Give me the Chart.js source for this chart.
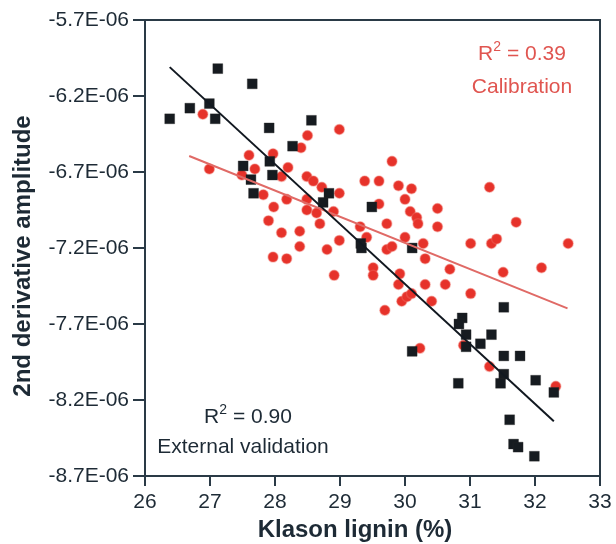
<!DOCTYPE html>
<html>
<head>
<meta charset="utf-8">
<script src="https://cdn.jsdelivr.net/npm/chart.js@4"></script>
<style>
  html, body { margin: 0; padding: 0; background: #ffffff; }
  #wrap { width: 616px; height: 544px; position: relative; }
</style>
</head>
<body>
<div id="wrap"><canvas id="c" width="616" height="544"></canvas></div>
<script>
// ---------- data (y values in units of 1E-06) ----------
const calX = [26.89,26.99,28.99,28.50,28.40,27.60,27.97,27.69,28.20,28.10,27.49,28.49,28.59,28.72,28.99,29.38,
  27.82,28.18,27.98,28.49,27.90,28.69,28.90,28.10,28.38,28.38,28.80,28.99,29.31,27.97,28.18,28.91,
  29.80,29.60,29.90,30.10,30.00,29.60,30.08,30.18,30.20,30.50,30.50,29.72,30.00,29.41,31.30,31.71,
  32.51,31.01,31.33,31.41,30.28,29.72,29.80,30.31,29.51,29.51,29.92,29.90,30.31,30.62,30.69,31.51,
  32.10,31.01,30.41,29.95,30.03,30.10,29.69,30.23,30.90,31.30,32.32,28.49,28.64];
const calY = [-6.32,-6.68,-6.42,-6.46,-6.54,-6.59,-6.58,-6.68,-6.67,-6.73,-6.72,-6.73,-6.76,-6.80,-6.84,-6.76,
  -6.85,-6.88,-6.93,-6.95,-7.02,-7.04,-6.96,-7.10,-7.09,-7.19,-7.21,-7.15,-7.06,-7.26,-7.27,-7.38,
  -6.63,-6.76,-6.79,-6.81,-6.88,-6.91,-6.96,-7.00,-7.04,-6.94,-7.06,-7.04,-7.13,-7.13,-6.80,-7.03,
  -7.17,-7.17,-7.17,-7.14,-7.17,-7.21,-7.19,-7.27,-7.33,-7.38,-7.37,-7.44,-7.44,-7.44,-7.34,-7.36,
  -7.33,-7.50,-7.55,-7.55,-7.52,-7.50,-7.61,-7.86,-7.84,-7.98,-8.11,-6.88,-6.97];
const valX = [27.12,27.65,26.99,26.69,26.38,27.08,27.91,28.56,28.27,27.51,27.92,27.96,27.63,27.67,28.83,28.74,
  29.49,29.32,29.33,30.11,31.52,30.88,30.83,30.94,31.33,31.16,30.94,30.11,31.52,31.77,31.52,31.47,
  30.82,32.01,32.29,31.61,31.67,31.74,31.99];
const valY = [-6.02,-6.12,-6.25,-6.28,-6.35,-6.35,-6.41,-6.36,-6.53,-6.66,-6.63,-6.72,-6.75,-6.84,-6.84,-6.90,
  -6.93,-7.17,-7.20,-7.20,-7.59,-7.66,-7.70,-7.77,-7.77,-7.83,-7.85,-7.88,-7.91,-7.91,-8.03,-8.09,
  -8.09,-8.07,-8.15,-8.33,-8.49,-8.51,-8.57];
const calLineX = [26.68, 32.50];
const calLineY = [-6.595, -7.597];
const valLineX = [26.38, 32.29];
const valLineY = [-6.01, -8.34];
const xTicks = [26, 27, 28, 29, 30, 31, 32, 33];
const yTickLabels = ['-8.7E-06','-8.2E-06','-7.7E-06','-7.2E-06','-6.7E-06','-6.2E-06','-5.7E-06'];
const yTicks = [-8.7, -8.2, -7.7, -7.2, -6.7, -6.2, -5.7];
const E6 = 1e-6;

const pts = (xs, ys) => xs.map((x, i) => ({ x: x, y: ys[i] * E6 }));

const AXIS = '#2a3a46';
const TEXT = '#1d2a35';
const RED = '#e6322a';
const RED_TXT = '#e05550';
const FONT = '"Liberation Sans", Arial, sans-serif';

const decor = {
  id: 'decor',
  afterDraw(chart) {
    const ctx = chart.ctx, a = chart.chartArea;
    ctx.save();
    ctx.strokeStyle = AXIS;
    ctx.lineWidth = 2;
    ctx.beginPath();
    ctx.moveTo(a.left, a.top); ctx.lineTo(a.right, a.top); ctx.lineTo(a.right, a.bottom);
    ctx.stroke();

    function r2(text, cx, baseline, color) {
      ctx.fillStyle = color;
      ctx.textBaseline = 'alphabetic';
      ctx.textAlign = 'left';
      const big = '21px ' + FONT, small = '14px ' + FONT;
      ctx.font = big; const wR = ctx.measureText('R').width;
      ctx.font = small; const w2 = ctx.measureText('2').width;
      ctx.font = big; const wT = ctx.measureText(text).width;
      let x = cx - (wR + w2 + wT) / 2;
      ctx.font = big; ctx.fillText('R', x, baseline); x += wR;
      ctx.font = small; ctx.fillText('2', x, baseline - 9); x += w2;
      ctx.font = big; ctx.fillText(text, x, baseline);
    }
    r2(' = 0.39', 522, 60, RED_TXT);
    ctx.font = '21px ' + FONT; ctx.textAlign = 'center'; ctx.fillStyle = RED_TXT;
    ctx.fillText('Calibration', 522, 93);
    r2(' = 0.90', 248, 423, TEXT);
    ctx.font = '21px ' + FONT; ctx.textAlign = 'center'; ctx.fillStyle = TEXT;
    ctx.fillText('External validation', 243, 453);

    // axis titles
    ctx.font = 'bold 24px ' + FONT;
    ctx.fillStyle = TEXT;
    ctx.textAlign = 'center';
    ctx.textBaseline = 'alphabetic';
    ctx.fillText('Klason lignin (%)', 355, 537);
    ctx.translate(30, 256);
    ctx.rotate(-Math.PI / 2);
    ctx.fillText('2nd derivative amplitude', 0, 0);
    ctx.restore();
  }
};

new Chart(document.getElementById('c'), {
  type: 'scatter',
  data: {
    datasets: [
      { type: 'line', data: pts(valLineX, valLineY), borderColor: '#111820', borderWidth: 2, pointRadius: 0, order: 0, fill: false },
      { type: 'line', data: pts(calLineX, calLineY), borderColor: '#e06a66', borderWidth: 2, pointRadius: 0, order: 0, fill: false },
      { data: pts(valX, valY), pointStyle: 'rect', pointRadius: 7, backgroundColor: '#161b20', borderColor: 'rgba(40,40,40,0.35)', borderWidth: 1, order: 1 },
      { data: pts(calX, calY), pointStyle: 'circle', pointRadius: 5, backgroundColor: RED, borderColor: 'rgba(240,110,100,0.4)', borderWidth: 1.5, order: 2 }
    ]
  },
  options: {
    responsive: false,
    animation: false,
    devicePixelRatio: 1,
    layout: { padding: { top: 20, right: 16, left: 0, bottom: 0 } },
    plugins: { legend: { display: false }, tooltip: { enabled: false } },
    scales: {
      x: {
        type: 'linear', min: 26, max: 33,
        afterFit(s) { s.height = 68; },
        afterBuildTicks(s) { s.ticks = xTicks.map(v => ({ value: v })); },
        border: { display: true, color: AXIS, width: 2 },
        grid: { display: true, drawOnChartArea: false, drawTicks: true, tickLength: 10, color: AXIS, lineWidth: 2 },
        ticks: { color: TEXT, font: { family: FONT, size: 21 }, padding: 4, maxRotation: 0, autoSkip: false }
      },
      y: {
        type: 'linear', min: -8.7 * E6, max: -5.7 * E6,
        afterFit(s) { s.width = 145; },
        afterBuildTicks(s) { s.ticks = yTicks.map(v => ({ value: v * E6 })); },
        border: { display: true, color: AXIS, width: 2 },
        grid: { display: true, drawOnChartArea: false, drawTicks: true, tickLength: 12, color: AXIS, lineWidth: 2 },
        ticks: {
          color: TEXT, font: { family: FONT, size: 21 }, padding: 4, autoSkip: false,
          callback: (v, i) => yTickLabels[i]
        }
      }
    }
  },
  plugins: [decor]
});
</script>
</body>
</html>
